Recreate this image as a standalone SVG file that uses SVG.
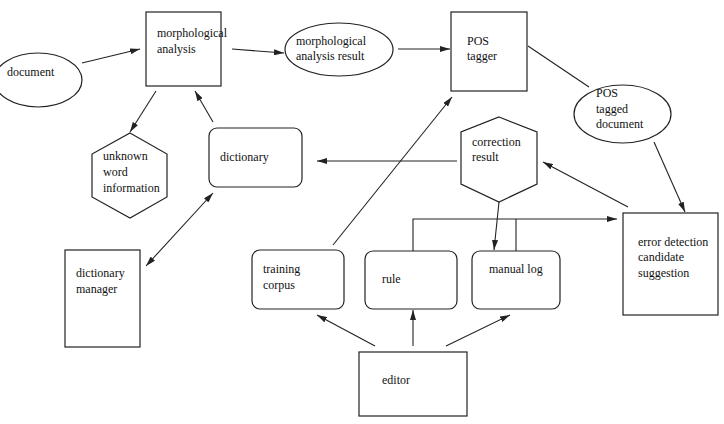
<svg xmlns="http://www.w3.org/2000/svg" width="724" height="424" viewBox="0 0 724 424">
<defs>
<marker id="ah" markerWidth="10" markerHeight="6" refX="10" refY="3" orient="auto" markerUnits="userSpaceOnUse"><path d="M0,0 L10,3 L0,6 z" fill="#222"/></marker>
<marker id="ahs" markerWidth="10" markerHeight="6" refX="0" refY="3" orient="auto" markerUnits="userSpaceOnUse"><path d="M10,0 L0,3 L10,6 z" fill="#222"/></marker>
<style>
.s{fill:#fff;stroke:#222;stroke-width:1.2}
.c{fill:none;stroke:#222;stroke-width:1.1}
text{font-family:"Liberation Serif","Times New Roman",serif;font-size:12px;fill:#111}
</style>
</defs>
<rect width="724" height="424" fill="#fff"/>
<g id="connectors">
<line class="c" x1="82" y1="63" x2="140" y2="49" marker-end="url(#ah)"/>
<line class="c" x1="232" y1="49" x2="284" y2="53" marker-end="url(#ah)"/>
<line class="c" x1="398" y1="49" x2="450" y2="49" marker-end="url(#ah)"/>
<line class="c" x1="528" y1="46" x2="589" y2="87"/>
<line class="c" x1="654" y1="142" x2="685" y2="212" marker-end="url(#ah)"/>
<line class="c" x1="628" y1="207" x2="543" y2="162" marker-end="url(#ah)"/>
<line class="c" x1="457" y1="161" x2="317" y2="161" marker-end="url(#ah)"/>
<line class="c" x1="156" y1="91" x2="130" y2="132" marker-end="url(#ah)"/>
<line class="c" x1="213" y1="122" x2="195" y2="91" marker-end="url(#ah)"/>
<line class="c" x1="146" y1="266" x2="213" y2="193" marker-start="url(#ahs)" marker-end="url(#ah)"/>
<line class="c" x1="333" y1="245" x2="452" y2="97" marker-end="url(#ah)"/>
<line class="c" x1="499" y1="202" x2="494" y2="250" marker-end="url(#ah)"/>
<polyline class="c" points="413,251 413,219 617,219" marker-end="url(#ah)"/>
<line class="c" x1="516" y1="219" x2="516" y2="251"/>
<line class="c" x1="375" y1="346" x2="317" y2="315" marker-end="url(#ah)"/>
<line class="c" x1="413" y1="346" x2="413" y2="310" marker-end="url(#ah)"/>
<line class="c" x1="446" y1="346" x2="510" y2="315" marker-end="url(#ah)"/>
</g>
<g id="document">
<ellipse class="s" cx="38" cy="80" rx="44" ry="27"/>
<text x="7" y="76">document</text>
</g>
<g id="morph">
<rect class="s" x="146" y="12" width="75" height="74"/>
<text x="157" y="37">morphological</text>
<text x="157" y="53">analysis</text>
</g>
<g id="morphresult">
<ellipse class="s" cx="339" cy="49.5" rx="54" ry="26.5"/>
<text x="296" y="45">morphological</text>
<text x="296" y="60">analysis result</text>
</g>
<g id="postagger">
<rect class="s" x="451" y="12" width="76" height="79"/>
<text x="467" y="45">POS</text>
<text x="467" y="60">tagger</text>
</g>
<g id="postagged">
<ellipse class="s" cx="622.5" cy="114" rx="48.5" ry="29"/>
<text x="596" y="97">POS</text>
<text x="596" y="113">tagged</text>
<text x="596" y="128">document</text>
</g>
<g id="unknown">
<polygon class="s" points="130,133 167,154 167,197 130,218 92,197 92,154"/>
<text x="103" y="160">unknown</text>
<text x="103" y="176">word</text>
<text x="103" y="192">information</text>
</g>
<g id="dictionary">
<rect class="s" x="209" y="128" width="93" height="59" rx="8"/>
<text x="220" y="161">dictionary</text>
</g>
<g id="correction">
<polygon class="s" points="499,117 537,132 537,184 499,202 461,184 461,132"/>
<text x="472" y="146">correction</text>
<text x="472" y="161">result</text>
</g>
<g id="errordetection">
<rect class="s" x="623" y="213" width="95" height="102"/>
<text x="638" y="246">error detection</text>
<text x="638" y="261">candidate</text>
<text x="638" y="277">suggestion</text>
</g>
<g id="dictmanager">
<rect class="s" x="65" y="250" width="75" height="97"/>
<text x="76" y="277">dictionary</text>
<text x="76" y="293">manager</text>
</g>
<g id="training">
<rect class="s" x="252" y="250" width="92" height="59" rx="8"/>
<text x="263" y="273">training</text>
<text x="263" y="289">corpus</text>
</g>
<g id="rule">
<rect class="s" x="365" y="251" width="92" height="58" rx="8"/>
<text x="382" y="283">rule</text>
</g>
<g id="manuallog">
<rect class="s" x="472" y="251" width="88" height="58" rx="8"/>
<text x="489" y="273">manual log</text>
</g>
<g id="editor">
<rect class="s" x="359" y="352" width="108" height="64"/>
<text x="382" y="384">editor</text>
</g>
</svg>
